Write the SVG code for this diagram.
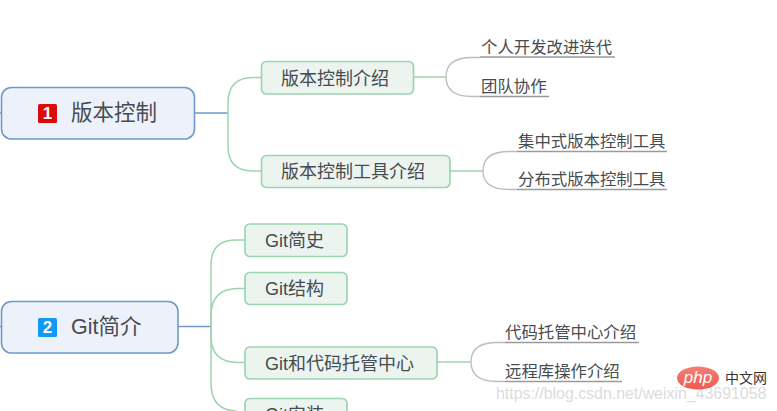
<svg xmlns="http://www.w3.org/2000/svg" width="777" height="411" viewBox="0 0 777 411">
<style>
text{font-family:"Liberation Sans","Noto Sans CJK SC",sans-serif;fill:#474c50;dominant-baseline:central}
.root{fill:#edf2fa;stroke:#6e9acb;stroke-width:1.6}
.sub{fill:#ecf4ef;stroke:#9dd4b0;stroke-width:1.7}
.rt{font-size:21.5px}.st{font-size:18px}.lt{font-size:16.4px}
.blue{fill:none;stroke:#6e9acb;stroke-width:1.4}
.green{fill:none;stroke:#9dd4b0;stroke-width:1.5}
.gray{fill:none;stroke:#bdbdbd;stroke-width:1.3}
.under{fill:none;stroke:#9a9a9a;stroke-width:1.3}
.num{font-size:17px;font-weight:700;fill:#fff;text-anchor:middle}
</style>
<defs><linearGradient id="php" x1="0" y1="0" x2="0" y2="1"><stop offset="0" stop-color="#f57f76"/><stop offset="1" stop-color="#ef5a50"/></linearGradient></defs>
<rect width="777" height="411" fill="#fff"/>
<g id="connectors">
<path class="blue" d="M0 113H2M194 113H228M0 326.500H2M178 326.500H211"/>
<path class="green" d="M261 77.500H253Q228 77.500 228 103V146Q228 171 253 171H261"/>
<path class="green" d="M413 77H446M450 171H483M437 362H471"/>
<path class="green" d="M245 240H236Q211 240 211 265V383Q211 410 236 411"/>
<path class="green" d="M245 288.500H238Q211 288.500 211 316V336Q211 362.500 238 362.500H245"/>
<path class="gray" d="M480 57.500H472Q446 57.500 446 77Q446 96.500 472 96.500H480"/>
<path class="under" d="M480 57H615M480 96.500H549"/>
<path class="gray" d="M517 151.500H509Q483 151.500 483 171Q483 189.500 509 189.500H517"/>
<path class="under" d="M517 151.500H667M517 189.500H667"/>
<path class="gray" d="M505 342.500H497Q471 342.500 471 362Q471 381.500 497 381.500H505"/>
<path class="under" d="M505 342.500H639M505 381.500H622"/>
</g>
<g id="root1"><rect class="root" x="1.500" y="87.500" width="193" height="51.500" rx="10"/>
<rect x="38" y="104" width="19" height="19" rx="1.500" fill="#dc0a0a"/><text class="num" x="47.500" y="113">1</text>
<text class="rt" x="71" y="113">版本控制</text></g>
<g id="n-intro"><rect class="sub" x="261.500" y="61.500" width="152" height="32.500" rx="5"/><text class="st" x="281" y="78.500">版本控制介绍</text></g>
<g id="n-tools"><rect class="sub" x="261.500" y="155.500" width="188.500" height="32" rx="5"/><text class="st" x="281" y="171.500">版本控制工具介绍</text></g>
<g id="l1"><text class="lt" x="481" y="46.500">个人开发改进迭代</text></g>
<g id="l2"><text class="lt" x="481" y="85.500">团队协作</text></g>
<g id="l3"><text class="lt" x="518" y="140.500">集中式版本控制工具</text></g>
<g id="l4"><text class="lt" x="518" y="178.500">分布式版本控制工具</text></g>
<g id="root2"><rect class="root" x="1.500" y="301.500" width="176.500" height="51.500" rx="10"/>
<rect x="38" y="318" width="19" height="19" rx="1.500" fill="#0f9bf5"/><text class="num" x="47.500" y="327">2</text>
<text class="rt" x="71" y="327">Git简介</text></g>
<g id="n-hist"><rect class="sub" x="245" y="224" width="102" height="32.500" rx="5"/><text class="st" x="265" y="240.500">Git简史</text></g>
<g id="n-struct"><rect class="sub" x="245" y="272.500" width="102" height="32" rx="5"/><text class="st" x="265" y="289">Git结构</text></g>
<g id="n-host"><rect class="sub" x="245" y="347" width="192" height="32" rx="5"/><text class="st" x="265" y="363.500">Git和代码托管中心</text></g>
<g id="n-install"><rect class="sub" x="245" y="398.500" width="102" height="32" rx="5"/><text class="st" x="265" y="415">Git安装</text></g>
<g id="l5"><text class="lt" x="505" y="331.500">代码托管中心介绍</text></g>
<g id="l6"><text class="lt" x="505" y="370.500">远程库操作介绍</text></g>
<g id="watermark">
<text x="496" y="393" style="font-size:15.900px;fill:#dcdcdc">https://blog.csdn.net/weixin_43691058</text>
<ellipse cx="698" cy="378" rx="21" ry="11.500" fill="url(#php)"/>
<text x="698" y="377" text-anchor="middle" style="font-size:17px;font-style:italic;fill:#fff">php</text>
<text x="725" y="378" style="font-size:14px;fill:#333">中文网</text>
</g>
</svg>
